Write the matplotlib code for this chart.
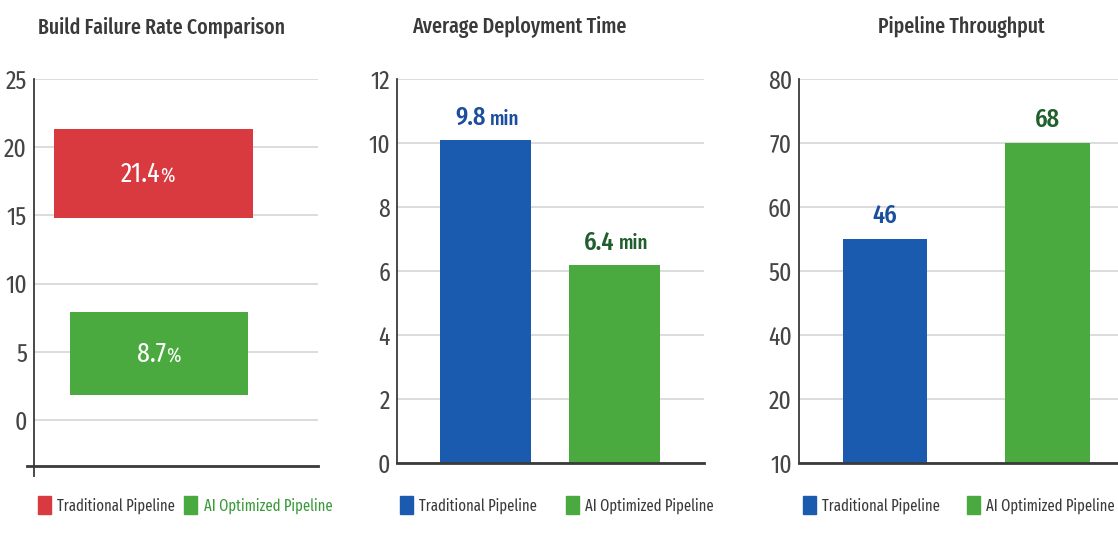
import numpy as np
import matplotlib
matplotlib.use('Agg')
import matplotlib.pyplot as plt
from matplotlib import font_manager
from matplotlib.patches import Patch

names = {f.name for f in font_manager.fontManager.ttflist}
FONTS = [f for f in ['Fira Sans Extra Condensed', 'Fira Sans Condensed', 'PT Sans Narrow', 'DejaVu Sans']
         if f in names] or ['DejaVu Sans']
plt.rcParams['font.family'] = FONTS

# --- data ---
series = ['Traditional Pipeline', 'AI Optimized Pipeline']
titles = ['Build Failure Rate Comparison', 'Average Deployment Time', 'Pipeline Throughput']

# build failure rate: floating bars (bottom, top) and printed labels
fail_low = [14.8, 1.8]
fail_high = [21.3, 7.9]
fail_labels = ['21.4', '8.7']
fail_ticks = [0, 5, 10, 15, 20, 25]

# deployment time (bar height as drawn, label as printed)
deploy_vals = [10.1, 6.2]
deploy_labels = ['9.8', '6.4']
deploy_ticks = [0, 2, 4, 6, 8, 10, 12]

# throughput: the axis ticks are uneven, bars read against them
thr_ticks = [10, 20, 40, 50, 60, 70, 80]
thr_vals = [55, 70]
thr_labels = ['46', '68']

RED = '#d93a40'
GREEN = '#4aaa3f'
BLUE = '#1a5bb0'
BLUE_TXT = '#1b4f9e'
GREEN_TXT = '#1f5f2c'
GRID = '#dcdcdc'
DARK = '#3a3a3a'
TICK = '#454545'
TEXT = '#3a3a3a'

fig = plt.figure(figsize=(11.18, 5.35), dpi=100)
W, H = 1118, 535


def px_axes(l, r, top, bot):
    return fig.add_axes([l / W, 1 - bot / H, (r - l) / W, (bot - top) / H])


def style(ax):
    for s in ['top', 'right']:
        ax.spines[s].set_visible(False)
    ax.spines['left'].set_color(DARK)
    ax.spines['left'].set_linewidth(1.3)
    ax.spines['bottom'].set_color(DARK)
    ax.spines['bottom'].set_linewidth(2)
    ax.tick_params(axis='y', length=0, pad=5, labelsize=18.5, labelcolor=TICK)
    ax.tick_params(axis='x', length=0, labelbottom=False)
    ax.grid(axis='y', color=GRID, linewidth=1.4)
    ax.set_axisbelow(True)


def legend(colors, cx, spacing, label_colors):
    handles = [Patch(color=c) for c in colors]
    lg = fig.legend(handles, series, loc='center', bbox_to_anchor=(cx / W, 1 - 505 / H),
                    ncol=2, frameon=False, fontsize=11.5, handlelength=0.8, handleheight=1.45,
                    handletextpad=0.4, columnspacing=spacing, borderpad=0)
    for t, c in zip(lg.get_texts(), label_colors):
        t.set_color(c)


# --- chart 1 ---
ax1 = px_axes(34, 318, 79, 466)
style(ax1)
x1 = [0.0, 0.02]
w1 = [0.70, 0.63]
ax1.bar(x1, np.subtract(fail_high, fail_low), bottom=fail_low, width=w1, color=[RED, GREEN])
ax1.set_xlim(-0.42, 0.58)
ax1.set_ylim(-3.37, 25)
ax1.set_yticks(fail_ticks)
ax1.spines['left'].set_bounds(-4.1, 25)
ax1.spines['left'].set_clip_on(False)
ax1.spines['bottom'].set_bounds(-0.445, 0.58)
ax1.spines['bottom'].set_clip_on(False)
for x, lo, hi, lab in zip(x1, fail_low, fail_high, fail_labels):
    y = (lo + hi) / 2
    ax1.annotate(lab, (x, y), xytext=(5, 0), textcoords='offset points', ha='right', va='center',
                 color='white', fontsize=20)
    ax1.annotate('%', (x, y), xytext=(5, -1.5), textcoords='offset points', ha='left', va='center',
                 color='white', fontsize=15)
legend([RED, GREEN], 185, 0.6, [TEXT, '#3a9a3a'])

# --- chart 2 ---
ax2 = px_axes(397, 704, 79, 463)
style(ax2)
x2 = np.arange(len(series))
ax2.bar(x2, deploy_vals, width=0.70, color=[BLUE, GREEN])
ax2.set_xlim(-0.686, 1.694)
ax2.set_ylim(0, 12)
ax2.set_yticks(deploy_ticks)
for x, v, lab, c in zip(x2, deploy_vals, deploy_labels, [BLUE_TXT, GREEN_TXT]):
    ax2.annotate(lab, (x, v), xytext=(0, 16), textcoords='offset points', ha='right', va='center',
                 color=c, fontsize=19, fontweight='medium')
    ax2.annotate('min', (x, v), xytext=(3, 15), textcoords='offset points', ha='left', va='center',
                 color=c, fontsize=15, fontweight='medium')
legend([BLUE, GREEN], 557, 1.8, [TEXT, TEXT])

# --- chart 3 ---
ax3 = px_axes(799, 1118, 79, 463)
style(ax3)
pos = np.arange(len(thr_ticks))
ax3.set_yscale('function', functions=(lambda v: np.interp(v, thr_ticks, pos),
                                      lambda p: np.interp(p, pos, thr_ticks)))
x3 = np.arange(len(series))
ax3.bar(x3, thr_vals, width=0.52, color=[BLUE, GREEN])
ax3.set_xlim(-0.529, 1.434)
ax3.set_ylim(10, 80)
ax3.set_yticks(thr_ticks)
ax3.set_yticklabels([str(t) for t in thr_ticks])
ax3.yaxis.set_minor_locator(matplotlib.ticker.NullLocator())
for x, v, lab, c in zip(x3, thr_vals, thr_labels, [BLUE_TXT, GREEN_TXT]):
    ax3.annotate(lab, (x, v), xytext=(0, 17), textcoords='offset points', ha='center', va='center',
                 color=c, fontsize=19, fontweight='medium')
legend([BLUE, GREEN], 959, 1.7, [TEXT, TEXT])

# titles
for x_px, t in zip([161, 519, 961], titles):
    fig.text(x_px / W, 1 - 27 / H, t, ha='center', va='center', fontsize=15.5,
             fontweight='medium', color=TEXT)

fig.savefig('out.png', dpi=100)
